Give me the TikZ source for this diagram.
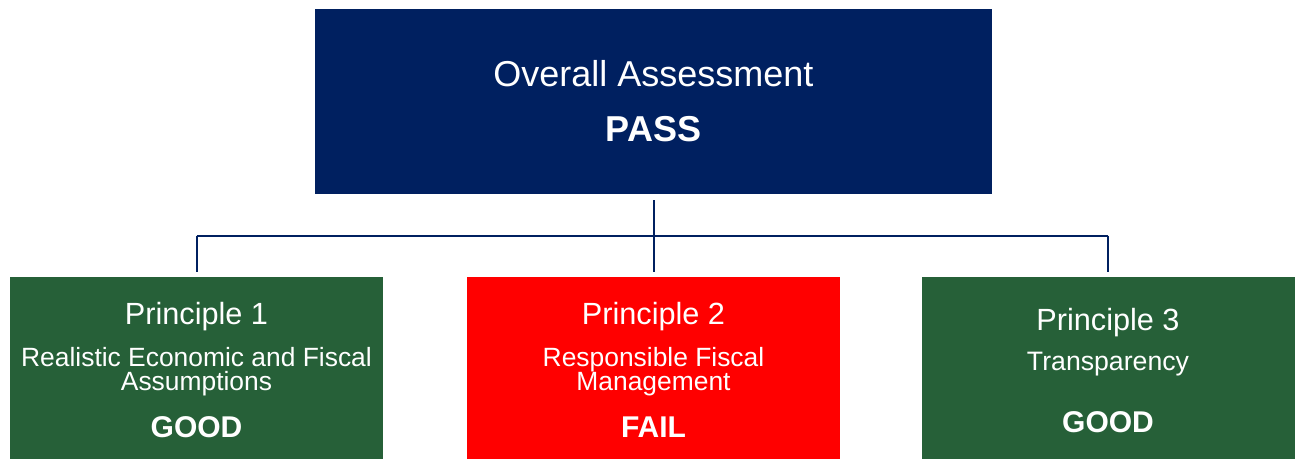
\documentclass[tikz,border=0pt]{standalone}
\usepackage{fontspec}
\setmainfont{Liberation Sans}
\definecolor{navy}{RGB}{0,32,96}
\definecolor{goodgreen}{RGB}{38,96,56}
\definecolor{failred}{RGB}{255,0,0}
\begin{document}
\begin{tikzpicture}[x=0.75pt,y=-0.75pt,
  box/.style={rectangle, inner sep=0pt, draw=none},
  topbox/.style={box, fill=navy, minimum width=507.75pt, minimum height=138.75pt},
  subbox/.style={box, minimum width=279.75pt, minimum height=137.25pt},
  conn/.style={draw=navy, line width=1.5pt},
  txt/.style={anchor=base, inner sep=0pt, text=white},
  ttl/.style={txt, font=\fontsize{27}{30}\selectfont},
  big/.style={txt, font=\fontsize{27}{30}\selectfont\bfseries},
  prin/.style={txt, font=\fontsize{23}{26}\selectfont},
  desc/.style={txt, font=\fontsize{20}{18}\selectfont},
  desc2/.style={anchor=north, inner sep=0pt, text=white, align=center, font=\fontsize{19.8}{18}\selectfont},
  grade/.style={txt, font=\fontsize{22.5}{25}\selectfont\bfseries}
]
\useasboundingbox (0,0) rectangle (1297,458);
\fill[white] (0,0) rectangle (1297,458);

\node[topbox] (top) at (653.5,101.5) {};
\node[subbox, fill=goodgreen] (p1) at (196.5,368.5) {};
\node[subbox, fill=failred] (p2) at (653.5,368.5) {};
\node[subbox, fill=goodgreen] (p3) at (1108,368.5) {};

\node[ttl] (t1) at (653.5,86) {Overall Assessment};
\node[big] (t2) at (653.5,141) {PASS};

\node[prin] (a1) at (196.5,324) {Principle 1};
\node[desc2] (a2) at (196.5,347.5) {Realistic Economic and Fiscal\\Assumptions};
\node[grade] (a4) at (196.5,437) {GOOD};

\node[prin] (b1) at (653.5,324) {Principle 2};
\node[desc2] (b2) at (653.5,347.5) {Responsible Fiscal\\Management};
\node[grade] (b4) at (653.5,437) {FAIL};

\node[prin] (c1) at (1108,330) {Principle 3};
\node[desc] (c2) at (1108,370) {Transparency};
\node[grade] (c3) at (1108,432) {GOOD};

\coordinate (hb) at (653.5,235.5);
\draw[conn, shorten <=4.5pt, shorten >=3.5pt] (top.south) -- (p2.north);
\draw[conn] (p1.north |- hb) -- (p3.north |- hb);
\draw[conn, shorten >=3.5pt] (p1.north |- hb) -- (p1.north);
\draw[conn, shorten >=3.5pt] (p3.north |- hb) -- (p3.north);
\end{tikzpicture}
\end{document}
